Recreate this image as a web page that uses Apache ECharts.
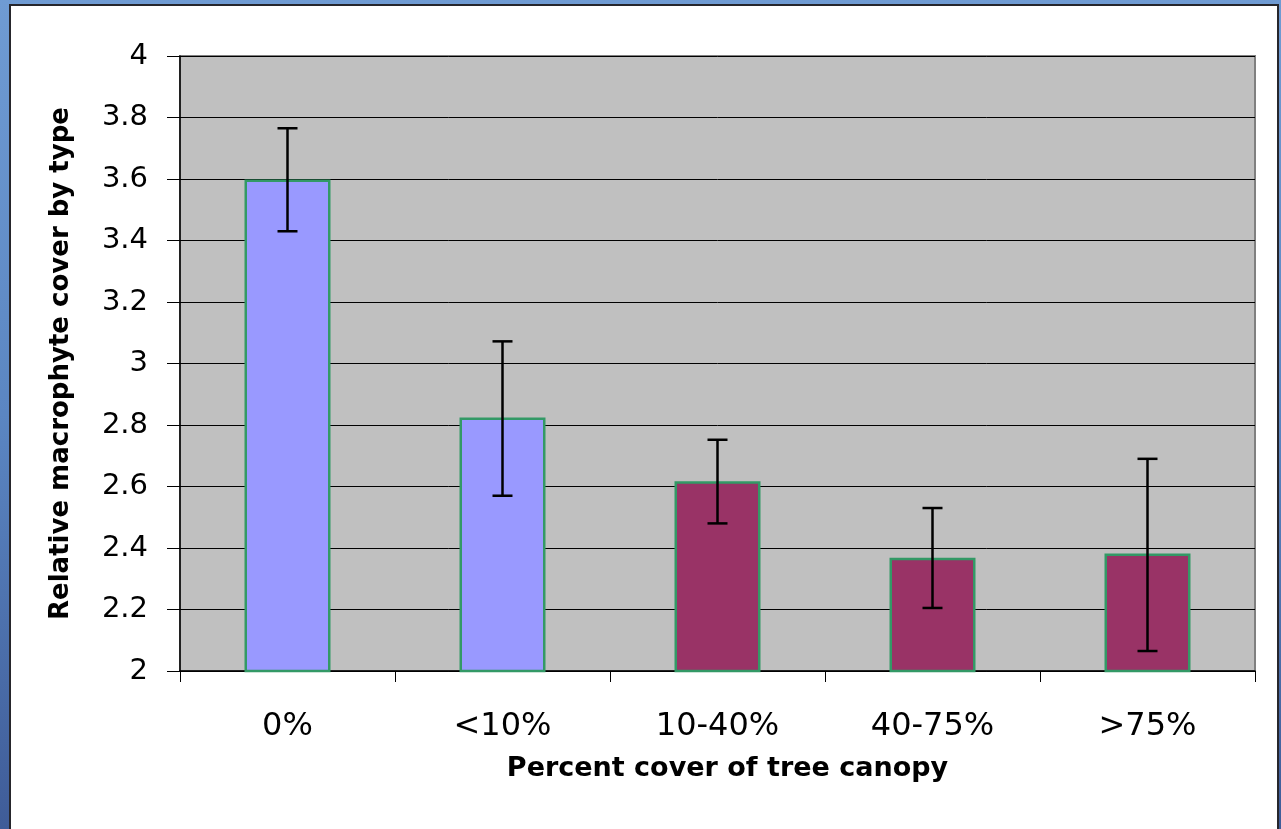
<!DOCTYPE html>
<html>
<head>
<meta charset="utf-8">
<script src="https://cdn.jsdelivr.net/npm/echarts@6/dist/echarts.min.js"></script>
<style>
  html, body { margin: 0; padding: 0; width: 1281px; height: 829px; overflow: hidden;
    background: linear-gradient(180deg, #6f9bd3 0%, #5b86c2 50%, #3f5c98 100%); }
  #panel { position: absolute; left: 9px; top: 4px; width: 1266px; height: 840px;
    background: #ffffff; border: 2px solid #26262c; }
  #chart { position: absolute; left: 0; top: 0; width: 1281px; height: 829px; }
</style>
</head>
<body>
<div id="panel"></div>
<div id="chart"></div>
<script>
const categories = ['0%', '<10%', '10-40%', '40-75%', '>75%'];
const means = [3.598, 2.824, 2.617, 2.368, 2.382];
const errLow = [3.43, 2.57, 2.48, 2.205, 2.065];
const errHigh = [3.765, 3.072, 2.752, 2.53, 2.69];
const barColors = ['#9999FF', '#9999FF', '#993366', '#993366', '#993366'];
const yMin = 2, yMax = 4, yStep = 0.2;
const xTitle = 'Percent cover of tree canopy';
const yTitle = 'Relative macrophyte cover by type';

const chart = echarts.init(document.getElementById('chart'), null, { renderer: 'canvas' });
const font = 'DejaVu Sans';

chart.setOption({
  backgroundColor: 'transparent',
  animation: false,
  grid: {
    left: 180, right: 26, top: 56, bottom: 158,
    show: true, backgroundColor: '#C0C0C0', borderColor: '#808080', borderWidth: 2
  },
  xAxis: {
    type: 'category',
    data: categories,
    boundaryGap: true,
    axisLine: { show: true, lineStyle: { color: '#000', width: 1.5 } },
    axisTick: { show: true, length: 11, lineStyle: { color: '#000', width: 1 } },
    axisLabel: { fontFamily: font, fontSize: 32, color: '#000', margin: 40 },
    name: xTitle,
    nameLocation: 'middle',
    nameGap: 84,
    nameTextStyle: { fontFamily: font, fontSize: 27, fontWeight: 'bold', color: '#000', padding: [0, 0, 0, 20] }
  },
  yAxis: {
    type: 'value',
    min: yMin, max: yMax, interval: yStep,
    axisLine: { show: true, lineStyle: { color: '#000', width: 1.5 } },
    axisTick: { show: true, length: 13, lineStyle: { color: '#000', width: 1 } },
    axisLabel: {
      fontFamily: font, fontSize: 29, color: '#000', margin: 32,
      formatter: v => String(+v.toFixed(1))
    },
    splitLine: { show: true, lineStyle: { color: '#000', width: 1 } },
    name: yTitle,
    nameLocation: 'middle',
    nameGap: 106,
    nameTextStyle: { fontFamily: font, fontSize: 26, fontWeight: 'bold', color: '#000' }
  },
  series: [
    {
      type: 'bar',
      barWidth: '40%',
      data: means.map((v, i) => ({
        value: v,
        itemStyle: { color: barColors[i], borderColor: '#339966', borderWidth: 2.5 }
      })),
      z: 2
    },
    {
      type: 'custom',
      z: 5,
      data: categories.map((c, i) => [i, errLow[i], errHigh[i]]),
      renderItem: function (params, api) {
        const x = api.coord([api.value(0), api.value(1)])[0];
        const lo = api.coord([api.value(0), api.value(1)])[1];
        const hi = api.coord([api.value(0), api.value(2)])[1];
        const hw = 10;
        const style = { stroke: '#000', lineWidth: 2.5 };
        return {
          type: 'group',
          children: [
            { type: 'line', shape: { x1: x, y1: lo, x2: x, y2: hi }, style: style },
            { type: 'line', shape: { x1: x - hw, y1: hi, x2: x + hw, y2: hi }, style: style },
            { type: 'line', shape: { x1: x - hw, y1: lo, x2: x + hw, y2: lo }, style: style }
          ]
        };
      }
    }
  ]
});
</script>
</body>
</html>
